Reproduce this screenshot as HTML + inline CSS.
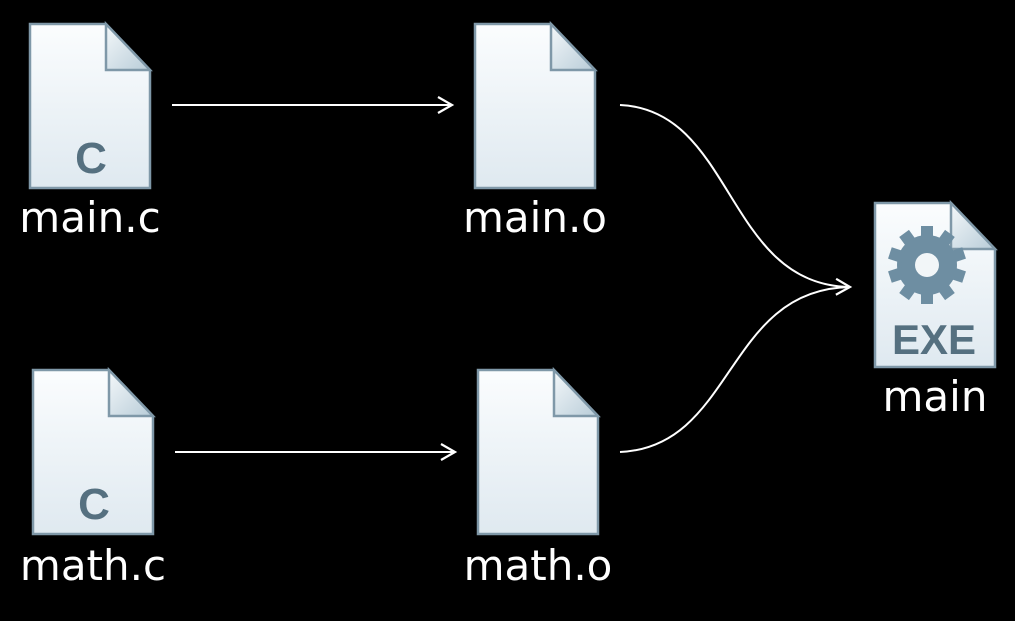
<!DOCTYPE html>
<html><head><style>
body{margin:0;background:#000;width:1015px;height:616px;overflow:hidden}
</style></head><body>
<svg width="1015" height="616" xmlns="http://www.w3.org/2000/svg">
<defs>
<linearGradient id="g" x1="0" y1="0" x2="0" y2="1">
<stop offset="0" stop-color="#fbfdfe"/><stop offset="1" stop-color="#dfe9f0"/>
</linearGradient>
<linearGradient id="f" x1="0" y1="0" x2="1" y2="1">
<stop offset="0" stop-color="#f4f8fa"/><stop offset="1" stop-color="#b8ccd8"/>
</linearGradient>
<g id="doc">
<path d="M0,0 H76 L120,46 V164 H0 Z" fill="url(#g)" stroke="#7f98a8" stroke-width="2.5"/>
<path d="M76,0 V46 H120 Z" fill="url(#f)" stroke="#7f98a8" stroke-width="2.5"/>
</g>
<marker id="a" markerWidth="20" markerHeight="20" refX="16" refY="10" orient="auto" markerUnits="userSpaceOnUse">
<path d="M2,2 L16,10 L2,18" fill="none" stroke="#fff" stroke-width="2.2"/>
</marker>
</defs>
<use href="#doc" x="30" y="24"/>
<use href="#doc" x="475" y="24"/>
<use href="#doc" x="33" y="370"/>
<use href="#doc" x="478" y="370"/>
<use href="#doc" x="875" y="203"/>
<g font-family="Liberation Sans, sans-serif" font-weight="bold" fill="#557080">
<text x="91" y="173" font-size="44" text-anchor="middle">C</text>
<text x="94" y="519" font-size="44" text-anchor="middle">C</text>
<text x="934" y="354" font-size="42" text-anchor="middle">EXE</text>
</g>
<g transform="translate(927,265)" fill="#6e8ea2">
<circle r="30"/>
<g>
<rect x="-6" y="-39" width="12" height="14"/>
<rect x="-6" y="-39" width="12" height="14" transform="rotate(36)"/>
<rect x="-6" y="-39" width="12" height="14" transform="rotate(72)"/>
<rect x="-6" y="-39" width="12" height="14" transform="rotate(108)"/>
<rect x="-6" y="-39" width="12" height="14" transform="rotate(144)"/>
<rect x="-6" y="-39" width="12" height="14" transform="rotate(180)"/>
<rect x="-6" y="-39" width="12" height="14" transform="rotate(216)"/>
<rect x="-6" y="-39" width="12" height="14" transform="rotate(252)"/>
<rect x="-6" y="-39" width="12" height="14" transform="rotate(288)"/>
<rect x="-6" y="-39" width="12" height="14" transform="rotate(324)"/>
</g>
<circle r="12" fill="#f2f6f8"/>
</g>
<g font-family="DejaVu Sans, sans-serif" font-size="42" fill="#fff" text-anchor="middle">
<text x="90" y="232">main.c</text>
<text x="535" y="232">main.o</text>
<text x="93" y="580">math.c</text>
<text x="538" y="580">math.o</text>
<text x="935" y="411">main</text>
</g>
<g fill="none" stroke="#fff" stroke-width="2">
<line x1="172" y1="105" x2="452" y2="105" marker-end="url(#a)"/>
<line x1="175" y1="452" x2="455" y2="452" marker-end="url(#a)"/>
<path d="M620,105 C735,110 725,285 850,287" marker-end="url(#a)"/>
<path d="M620,452 C735,447 725,289 850,287"/>
</g>
</svg>
</body></html>
